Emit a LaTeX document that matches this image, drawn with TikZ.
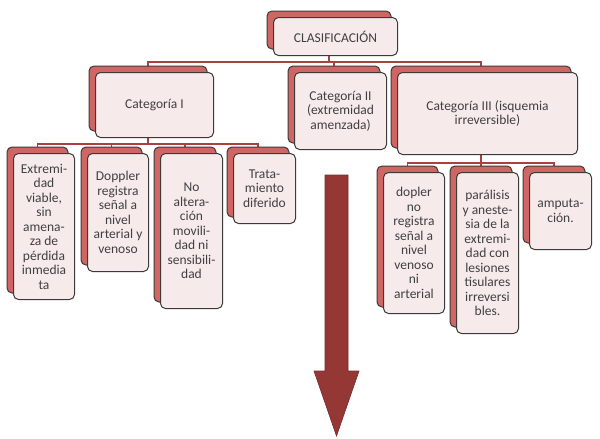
\documentclass[tikz,border=0pt]{standalone}
\usepackage{fontspec}
\setmainfont{Carlito}
\usetikzlibrary{shadows,calc,backgrounds}
\definecolor{boxred}{HTML}{CF6664}
\definecolor{boxpink}{HTML}{F7EAEA}
\definecolor{boxline}{HTML}{3A3A3A}
\definecolor{linkred}{HTML}{A8423F}
\definecolor{arrowred}{HTML}{953735}
\definecolor{textgray}{HTML}{404040}

\begin{document}
\begin{tikzpicture}[x=1pt,y=-1pt,
    card/.style={draw=boxline, line width=1pt, fill=boxpink, rounded corners=5pt,
        inner sep=0pt, anchor=north west, align=center, text=textgray,
        font=\fontsize{13.5}{14.5}\selectfont,
        copy shadow={shadow xshift=-6.5pt, shadow yshift=6.5pt, fill=boxred, draw=boxline, line width=1pt}},
    link/.style={draw=linkred, line width=1.6pt}]
    \useasboundingbox (0,0) rectangle (600,439);

    % Root
    \node[card, minimum width=124pt, minimum height=38pt] (root) at (273,17) {CLASIFICACIÓN};

    % Categories
    \node[card, minimum width=118pt, minimum height=65pt] (cat1) at (95,72) {Categoría I};
    \node[card, minimum width=92pt, minimum height=77pt] (cat2) at (294,72) {Categoría II\\(extremidad\\amenzada)};
    \node[card, minimum width=180pt, minimum height=82pt] (cat3) at (397,72) {Categoría III (isquemia\\irreversible)};

    % Categoria I
    \node[card, minimum width=61pt, minimum height=146pt] (e1) at (13,153) {Extremi-\\dad\\viable,\\sin\\amena-\\za de\\pérdida\\inmedia\\ta};
    \node[card, minimum width=61pt, minimum height=118pt] (e2) at (87,153) {Doppler\\registra\\señal a\\nivel\\arterial y\\venoso};
    \node[card, minimum width=62pt, minimum height=155pt] (e3) at (160,153) {No\\altera-\\ción\\movili-\\dad ni\\sensibili-\\dad};
    \node[card, minimum width=62pt, minimum height=70pt] (e4) at (233,153) {Trata-\\miento\\diferido};

    % Categoria III
    \node[card, minimum width=61pt, minimum height=141pt] (f1) at (383,172) {dopler\\no\\registra\\señal a\\nivel\\venoso\\ni\\arterial};
    \node[card, minimum width=62pt, minimum height=161pt] (f2) at (456,172) {parálisis\\y aneste-\\sia de la\\extremi-\\dad con\\lesiones\\tisulares\\irreversi\\bles.};
    \node[card, minimum width=62pt, minimum height=77pt] (f3) at (529,172) {amputa-\\ción.};

    % Connectors
    \begin{scope}[on background layer]
        \coordinate (j0) at ($(root.south)+(-6.5,6)$);
        \coordinate (j1) at ($(cat1.south)+(-6.5,6)$);
        \coordinate (j3) at ($(cat3.south)+(-6.5,8)$);
        \draw[link] (j0) -- (j0 |- root.south);
        \draw[link] (j1) -- (j1 |- cat1.south);
        \draw[link] (j3) -- (j3 |- cat3.south);
        \foreach \c in {cat1,cat2,cat3}
            \draw[link] (j0) -| ([shift={(-6.5pt,6.5pt)}]\c.north);
        \foreach \c in {e1,e2,e3,e4}
            \draw[link] (j1) -| ([shift={(-6.5pt,6.5pt)}]\c.north);
        \foreach \c in {f1,f2,f3}
            \draw[link] (j3) -| ([shift={(-6.5pt,6.5pt)}]\c.north);
    \end{scope}

    % Arrow
    \draw[fill=arrowred, draw=arrowred!80!black, line width=0.6pt]
        (325,175) -- (348,175) -- (348,371) -- (359,371) -- (336.5,436)
        -- (314,371) -- (325,371) -- cycle;
\end{tikzpicture}
\end{document}
